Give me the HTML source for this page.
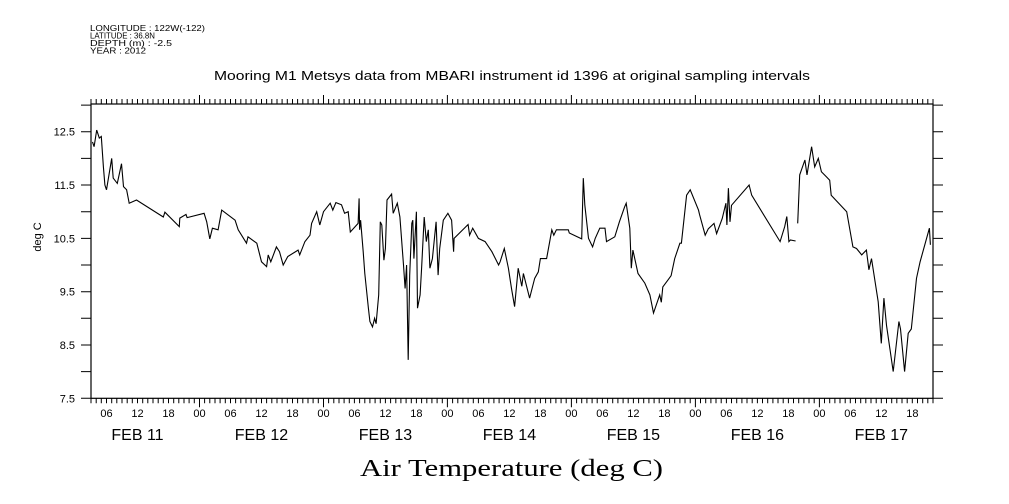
<!DOCTYPE html>
<html><head><meta charset="utf-8"><style>
body{margin:0;background:#fff;}
svg{display:block;font-family:"Liberation Sans",sans-serif;}
</style></head><body>
<svg id="chart" width="1009" height="504" viewBox="0 0 1009 504">
<g font-size="8.5" fill="#000">
<text x="90" y="31" textLength="115" lengthAdjust="spacingAndGlyphs">LONGITUDE : 122W(-122)</text>
<text x="90" y="38.5" textLength="65" lengthAdjust="spacingAndGlyphs">LATITUDE : 36.8N</text>
<text x="90" y="46" textLength="82" lengthAdjust="spacingAndGlyphs">DEPTH (m) : -2.5</text>
<text x="90" y="53.5" textLength="56" lengthAdjust="spacingAndGlyphs">YEAR : 2012</text>
</g>
<text x="214" y="80" font-size="13" textLength="596" lengthAdjust="spacingAndGlyphs">Mooring M1 Metsys data from MBARI instrument id 1396 at original sampling intervals</text>
<text x="360" y="476" font-size="24" textLength="303" lengthAdjust="spacingAndGlyphs" font-family="Liberation Serif, serif">Air Temperature (deg C)</text>
<text x="0" y="0" font-size="11" text-anchor="middle" transform="translate(41,237) rotate(-90)">deg C</text>
<g id="axes"></g>
<g id="plot"></g>
</svg>
<script>
// hours since Feb 11 00:00
const hours=[3.3,3.6,4.1,4.6,5.0,5.4,5.7,6.0,7.0,7.3,8.1,8.9,9.3,9.9,10.4,11.8,17.0,17.3,20.1,20.2,21.4,21.6,24.9,25.4,26.0,26.5,27.6,28.3,30.9,31.5,33.1,33.4,35.1,36.0,37.0,37.3,37.8,38.9,39.5,40.2,41.1,43.1,43.4,44.4,45.4,45.7,46.7,47.3,48.0,49.3,49.8,50.4,51.5,52.1,52.8,53.2,54.7,54.9,55.0,55.2,55.7,56.0,56.7,57.0,57.5,57.9,58.2,58.7,59.0,59.3,59.7,60.0,60.3,61.2,61.5,62.3,62.8,63.5,63.8,64.1,64.4,64.7,65.1,65.3,65.5,66.0,66.2,66.7,67.0,67.5,67.9,68.3,68.6,69.1,69.8,70.2,70.5,71.2,72.1,72.8,73.2,73.3,76.0,76.3,76.9,78.0,79.3,80.6,81.9,82.2,83.0,83.8,84.4,85.0,85.7,86.4,86.7,87.9,88.9,89.6,90.0,91.2,91.8,92.2,92.6,93.1,95.4,95.6,98.0,98.3,98.6,99.3,100.1,100.6,101.5,102.5,102.8,104.4,105.3,106.3,106.6,107.3,107.6,107.9,108.9,110.2,111.2,111.9,113.1,113.4,113.7,114.7,115.3,116.0,117.0,117.3,118.3,119.0,120.6,120.8,121.9,122.5,123.6,124.1,125.2,125.9,126.1,126.4,126.7,127.0,130.4,130.9,136.4,137.3,137.7,138.1,138.4,139.4,139.6,139.8,140.2,141.2,141.6,142.5,143.1,143.8,144.4,145.4,146.0,146.3,149.3,150.5,151.2,152.2,153.1,153.6,154.1,155.4,156.0,156.5,157.0,158.3,159.4,159.7,160.5,161.2,161.8,162.8,163.5,165.3,165.5];
const temps=[12.31,12.22,12.53,12.38,12.41,11.84,11.5,11.41,12.0,11.63,11.53,11.9,11.47,11.41,11.16,11.22,10.9,10.99,10.72,10.88,10.95,10.89,10.97,10.81,10.49,10.69,10.66,11.03,10.84,10.66,10.41,10.53,10.41,10.06,9.97,10.19,10.06,10.34,10.25,10.0,10.16,10.28,10.19,10.44,10.56,10.78,11.0,10.75,11.0,11.16,11.03,11.17,11.13,10.97,11.0,10.62,10.78,11.25,10.66,10.84,10.25,9.84,9.19,8.94,8.84,9.0,8.9,9.44,10.81,10.75,10.09,10.31,11.22,11.33,10.97,11.16,10.9,10.0,9.56,10.0,8.22,9.81,10.78,10.84,10.12,11.0,9.19,9.44,9.94,10.9,10.44,10.66,9.94,10.12,10.81,9.81,10.31,10.84,10.97,10.84,10.25,10.5,10.76,10.56,10.69,10.5,10.44,10.25,10.0,10.06,10.31,9.94,9.56,9.22,9.94,9.6,9.84,9.38,9.75,9.87,10.12,10.12,10.44,10.66,10.56,10.66,10.66,10.6,10.49,11.63,11.13,10.5,10.34,10.5,10.69,10.69,10.44,10.53,10.81,11.09,11.16,10.69,9.94,10.28,9.84,9.66,9.44,9.1,9.44,9.3,9.59,9.72,9.8,10.12,10.41,10.41,11.31,11.41,11.03,10.95,10.56,10.68,10.78,10.59,10.87,11.16,10.75,11.44,10.81,11.12,11.5,11.31,10.44,10.72,10.91,10.44,10.47,10.45,null,10.78,11.69,11.97,11.69,12.22,11.84,12.0,11.75,11.65,11.59,11.31,11.0,10.34,10.31,10.19,10.28,9.91,10.12,9.31,8.53,9.38,8.87,8.0,8.94,8.8,8.0,8.72,8.8,9.75,10.06,10.69,10.38];
const yTicks=[7.5,8.5,9.5,10.5,11.5,12.5];
const hourLabels=["06","12","18","00"];
const dayLabels=["FEB 11","FEB 12","FEB 13","FEB 14","FEB 15","FEB 16","FEB 17"];
const X0=91,X1=933,Y0=104,Y1=398.3,T0=3,T1=166,V0=7.5,V1=13.02;
const xs=t=>X0+(t-T0)*(X1-X0)/(T1-T0);
const ys=v=>Y1-(v-V0)*(Y1-Y0)/(V1-V0);
const NS="http://www.w3.org/2000/svg";
const axes=document.getElementById('axes'),plot=document.getElementById('plot');
function mk(tag,attrs,parent){const e=document.createElementNS(NS,tag);for(const k in attrs)e.setAttribute(k,attrs[k]);parent.appendChild(e);return e;}
const frame=mk('rect',{x:X0,y:Y0,width:X1-X0,height:Y1-Y0,fill:'none',stroke:'#000','stroke-width':1.2},axes);


let d='';
for(let h=T0;h<=T1;h++){const x=xs(h).toFixed(1);const major=h%24===0;const L=major?9:5;d+=`M${x} ${Y0}V${Y0-L}M${x} ${Y1}V${Y1+L}`;}
const tk=mk('path',{d:d,stroke:'#000','stroke-width':1,fill:'none'},axes);


for(let h=6;h<=T1;h+=6){const t=mk('text',{x:xs(h),y:417,'font-size':11,'text-anchor':'middle'},axes);t.textContent=hourLabels[(h/6-1)%4];

}
dayLabels.forEach((s,i)=>{const t=mk('text',{x:xs(i*24+12),y:440,'font-size':16,'text-anchor':'middle'},axes);t.textContent=s;

});
let yd='';
for(let v=7.5;v<=13.01;v+=0.5){const y=ys(v).toFixed(1);yd+=`M${X0-10} ${y}H${X0}M${X1} ${y}H${X1+10}`;}
const ytk=mk('path',{d:yd,stroke:'#000','stroke-width':1},axes);


yTicks.forEach(v=>{const t=mk('text',{x:75,y:ys(v)+4,'font-size':11,'text-anchor':'end'},axes);t.textContent=v.toFixed(1);

});
let p='',pen=false;
hours.forEach((h,i)=>{const v=temps[i];if(v===null){pen=false;return;}p+=(pen?'L':'M')+xs(h).toFixed(1)+' '+ys(v).toFixed(1);pen=true;});
const line=mk('path',{d:p,fill:'none',stroke:'#000','stroke-width':1.1},plot);


</script>
</body></html>
